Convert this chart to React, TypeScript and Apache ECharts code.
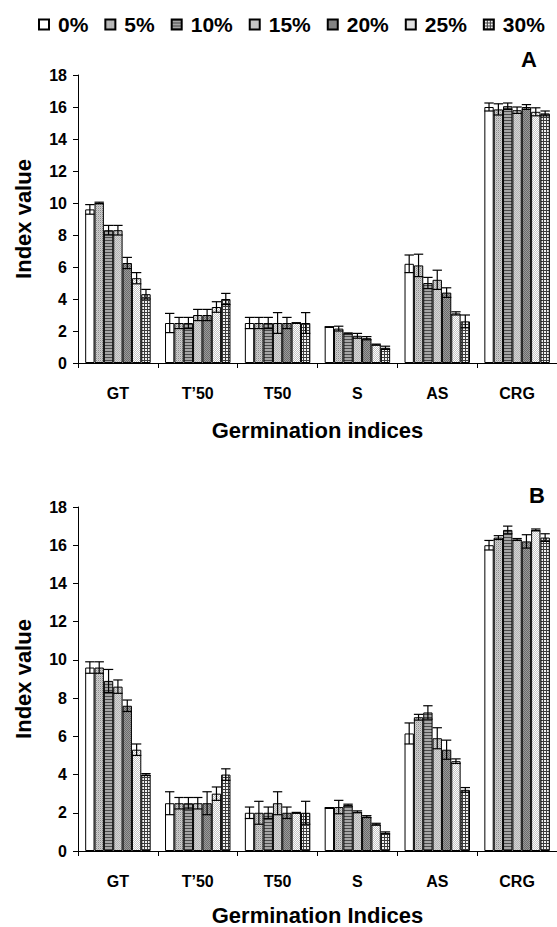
import React, { useEffect, useRef } from "react";
import * as echarts from "echarts";

const categories = ["GT", "T\u201950", "T50", "S", "AS", "CRG"];
const seriesNames = ["0%", "5%", "10%", "15%", "20%", "25%", "30%"];

// Panel A values (one array per treatment, across categories)
const valuesA = [
  [9.6, 2.5, 2.5, 2.25, 6.2, 16.0],
  [10.0, 2.5, 2.5, 2.15, 6.1, 15.85],
  [8.3, 2.5, 2.5, 1.85, 5.0, 16.05],
  [8.3, 3.0, 2.5, 1.7, 5.2, 15.8],
  [6.25, 3.0, 2.5, 1.55, 4.4, 16.0],
  [5.3, 3.5, 2.5, 1.15, 3.1, 15.7],
  [4.3, 4.0, 2.5, 0.95, 2.6, 15.6],
];
const errorsA = [
  [0.3, 0.6, 0.35, 0.02, 0.55, 0.25],
  [0.05, 0.35, 0.35, 0.15, 0.7, 0.35],
  [0.3, 0.35, 0.35, 0.03, 0.35, 0.2],
  [0.3, 0.35, 0.65, 0.15, 0.6, 0.2],
  [0.35, 0.35, 0.35, 0.1, 0.3, 0.15],
  [0.35, 0.33, 0.02, 0.03, 0.1, 0.25],
  [0.3, 0.35, 0.65, 0.1, 0.4, 0.15],
];

// Panel B values
const valuesB = [
  [9.6, 2.5, 2.0, 2.25, 6.15, 16.0],
  [9.6, 2.5, 2.0, 2.3, 7.0, 16.4],
  [8.9, 2.5, 2.0, 2.4, 7.25, 16.8],
  [8.6, 2.5, 2.5, 2.05, 5.9, 16.3],
  [7.6, 2.5, 2.0, 1.8, 5.3, 16.2],
  [5.3, 3.0, 2.0, 1.4, 4.7, 16.8],
  [4.0, 4.0, 2.0, 0.95, 3.2, 16.4],
];
const errorsB = [
  [0.3, 0.6, 0.3, 0.02, 0.55, 0.25],
  [0.3, 0.3, 0.6, 0.35, 0.15, 0.1],
  [0.6, 0.3, 0.3, 0.05, 0.35, 0.2],
  [0.35, 0.3, 0.6, 0.05, 0.55, 0.05],
  [0.3, 0.6, 0.3, 0.05, 0.5, 0.35],
  [0.3, 0.35, 0.02, 0.05, 0.12, 0.05],
  [0.05, 0.3, 0.6, 0.05, 0.12, 0.2],
];

const yTicks = { min: 0, max: 18, interval: 2 };

const FONT = "'Liberation Sans', Arial, Helvetica, sans-serif";

function makeTile(rows: string[][]) {
  const h = rows.length;
  const w = rows[0].length;
  const c = document.createElement("canvas");
  c.width = w;
  c.height = h;
  const ctx = c.getContext("2d")!;
  for (let y = 0; y < h; y++) {
    for (let x = 0; x < w; x++) {
      ctx.fillStyle = rows[y][x];
      ctx.fillRect(x, y, 1, 1);
    }
  }
  return { image: c, repeat: "repeat", imageWidth: w, imageHeight: h };
}

function makePatterns() {
  const W = "#ffffff";
  return [
    "#ffffff",
    makeTile([
      ["#8c8c8c", "#d0d0d0"],
      ["#d0d0d0", "#b4b4b4"],
    ]),
    makeTile([
      ["#4a4a4a", "#4a4a4a"],
      ["#a6a6a6", "#a6a6a6"],
      ["#a6a6a6", "#a6a6a6"],
    ]),
    makeTile([
      ["#b2b2b2", "#d6d6d6"],
      ["#d6d6d6", "#b2b2b2"],
    ]),
    makeTile([
      ["#6a6a6a", "#9c9c9c"],
      ["#9c9c9c", "#6a6a6a"],
    ]),
    makeTile([
      [W, "#c2c2c2"],
      ["#c2c2c2", W],
    ]),
    makeTile([
      ["#3c3c3c", "#3c3c3c", "#3c3c3c"],
      ["#3c3c3c", "#f2f2f2", "#f2f2f2"],
      ["#3c3c3c", "#f2f2f2", "#f2f2f2"],
    ]),
  ];
}

const CAT_GAP = 0.18;

export default function App() {
  const ref = useRef<HTMLDivElement>(null);

  useEffect(() => {
    if (!ref.current) return;
    const chart = echarts.init(ref.current, null, { renderer: "svg" });
    const patterns = makePatterns();

    const panels = [
      { values: valuesA, errors: errorsA, name: "Germination indices", top: 75, height: 288, nameGap: 56 },
      { values: valuesB, errors: errorsB, name: "Germination Indices", top: 507, height: 346, nameGap: 53 },
    ];

    const series: any[] = [];
    panels.forEach((p, pi) => {
      seriesNames.forEach((nm, si) => {
        series.push({
          name: nm,
          type: "bar",
          xAxisIndex: pi,
          yAxisIndex: pi,
          data: p.values[si],
          barGap: "0%",
          barCategoryGap: (CAT_GAP * 100) + "%",
          itemStyle: { color: patterns[si], borderColor: "#000", borderWidth: 1 },
          emphasis: { disabled: true },
        });
      });
      const errData: number[][] = [];
      seriesNames.forEach((_, si) => {
        categories.forEach((_c, ci) => {
          errData.push([ci, si, p.values[si][ci], p.errors[si][ci]]);
        });
      });
      series.push({
        type: "custom",
        xAxisIndex: pi,
        yAxisIndex: pi,
        z: 10,
        encode: { x: 0, y: 2 },
        data: errData,
        renderItem: (params: any, api: any) => {
          const ci = api.value(0);
          const si = api.value(1);
          const v = api.value(2);
          const e = api.value(3);
          const band = api.size([1, 0])[0];
          const total = band * (1 - CAT_GAP);
          const bw = total / seriesNames.length;
          const cx = api.coord([ci, 0])[0] - total / 2 + (si + 0.5) * bw;
          const yT = api.coord([ci, v + e])[1];
          const yB = api.coord([ci, v - e])[1];
          const hw = bw * 0.5;
          const st = { stroke: "#000", lineWidth: 1.2 };
          return {
            type: "group",
            children: [
              { type: "line", shape: { x1: cx, y1: yT, x2: cx, y2: yB }, style: st },
              { type: "line", shape: { x1: cx - hw, y1: yT, x2: cx + hw, y2: yT }, style: st },
              { type: "line", shape: { x1: cx - hw, y1: yB, x2: cx + hw, y2: yB }, style: st },
            ],
          };
        },
      });
    });

    const axisText = { color: "#000", fontSize: 16, fontWeight: "bold", fontFamily: FONT };
    const nameText = { color: "#000", fontSize: 22, fontWeight: "bold", fontFamily: FONT };

    chart.setOption({
      animation: false,
      backgroundColor: "#ffffff",
      textStyle: { fontFamily: FONT },
      legend: {
        data: seriesNames,
        left: 33,
        top: 9,
        width: 700,
        itemWidth: 10,
        itemHeight: 10,
        itemGap: 16,
        icon: "rect",
        selectedMode: false,
        textStyle: { color: "#000", fontSize: 21, fontWeight: "bold", fontFamily: FONT, padding: [0, 0, 0, 4] },
      },
      grid: panels.map((p) => ({ left: 78, top: p.top, width: 487, height: p.height, containLabel: false })),
      xAxis: panels.map((p, pi) => ({
        type: "category",
        gridIndex: pi,
        data: categories,
        boundaryGap: true,
        axisLine: { lineStyle: { color: "#000", width: 1 } },
        axisTick: { show: true, length: 5, lineStyle: { color: "#000" } },
        axisLabel: { ...axisText, margin: 22, interval: 0 },
        name: p.name,
        nameLocation: "middle",
        nameGap: p.nameGap,
        nameTextStyle: nameText,
      })),
      yAxis: panels.map((p, pi) => ({
        type: "value",
        gridIndex: pi,
        min: yTicks.min,
        max: yTicks.max,
        interval: yTicks.interval,
        axisLine: { show: true, lineStyle: { color: "#000", width: 1 } },
        axisTick: { show: true, length: 5, lineStyle: { color: "#000" } },
        splitLine: { show: false },
        axisLabel: { ...axisText, margin: 11 },
        name: "Index value",
        nameLocation: "middle",
        nameGap: 44,
        nameTextStyle: nameText,
      })),
      graphic: [
        { type: "text", x: 529, y: 59, style: { text: "A", fill: "#000", fontSize: 22, fontWeight: "bold", fontFamily: FONT, align: "center", verticalAlign: "middle", textAlign: "center", textVerticalAlign: "middle" } },
        { type: "text", x: 537, y: 495, style: { text: "B", fill: "#000", fontSize: 22, fontWeight: "bold", fontFamily: FONT, align: "center", verticalAlign: "middle", textAlign: "center", textVerticalAlign: "middle" } },
      ],
      series,
    });

    return () => chart.dispose();
  }, []);

  return (
    <div
      ref={ref}
      style={{ position: "fixed", left: 0, top: 0, width: 557, height: 927, background: "#fff" }}
    />
  );
}
